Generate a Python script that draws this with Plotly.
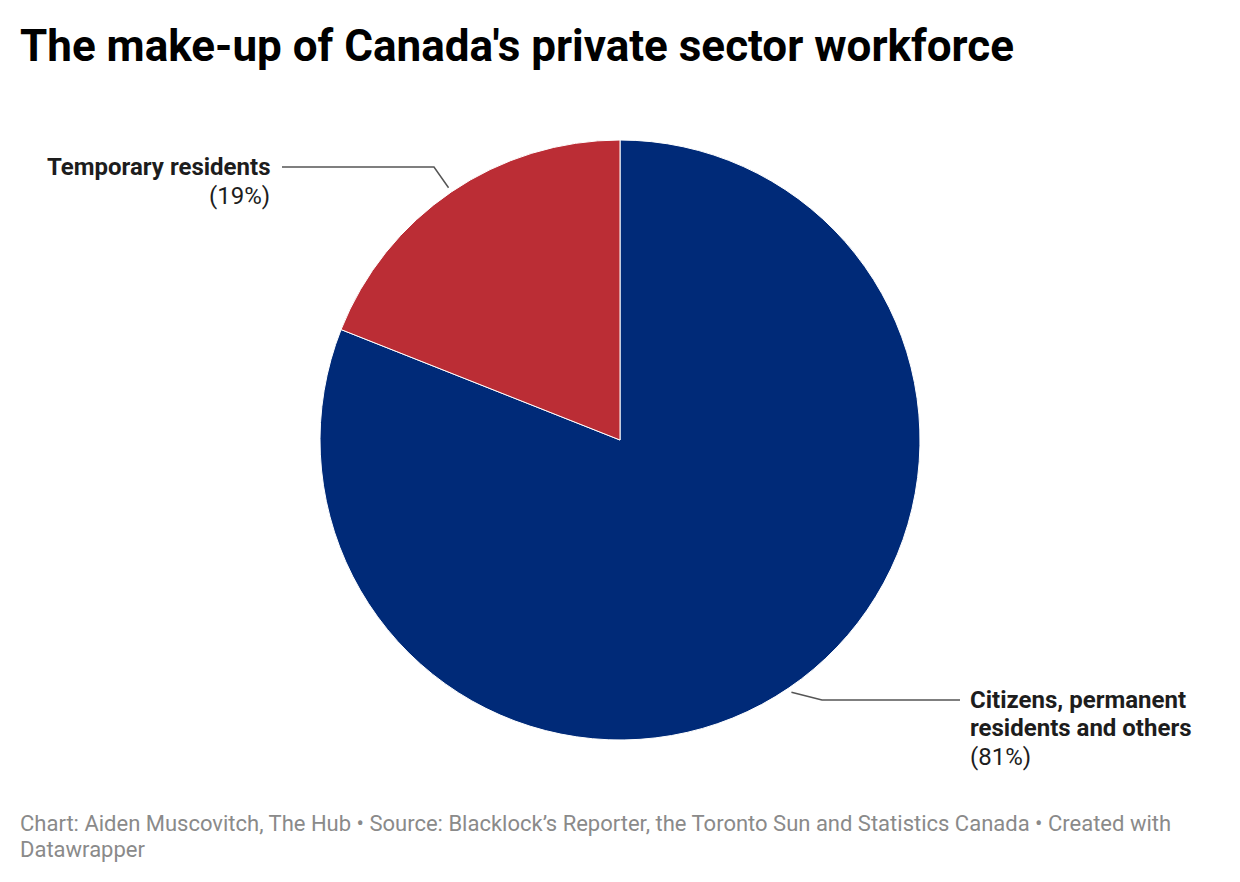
import math
import plotly.graph_objects as go

labels = ["Citizens, permanent residents and others", "Temporary residents"]
values = [81, 19]
pct_labels = ["(81%)", "(19%)"]
colors = ["#002a78", "#bb2d35"]

W, H = 1240, 882
cx, cy, R = 620, 440, 300

fig = go.Figure(go.Pie(
    labels=labels, values=values, sort=False, direction="clockwise", rotation=0,
    marker=dict(colors=colors, line=dict(color="white", width=1)),
    textinfo="none", hoverinfo="label+percent", showlegend=False,
    domain=dict(x=[(cx - R) / W, (cx + R) / W], y=[(H - cy - R) / H, (H - cy + R) / H]),
))

def px(x):
    return x / W

def py(y):
    return 1 - y / H

total = sum(values)
cum = 0
mids = []
for v in values:
    mids.append((cum + v / 2) / total * 360)
    cum += v

shapes = []
annotations = []
r_out = R + 5
line_col = "#555555"
lab_font_b = dict(family="Roboto", size=24, color="#1d1d1d")

def txt(x, y, s, xanchor, font):
    annotations.append(dict(xref="paper", yref="paper", x=px(x), y=py(y), xanchor=xanchor,
                            yanchor="middle", showarrow=False, text=s, font=font))

# Citizens (first slice)
a = math.radians(mids[0])
x0, y0 = cx + r_out * math.sin(a), cy - r_out * math.cos(a)
shapes.append(dict(type="path", xref="paper", yref="paper",
                   path=f"M {px(x0)} {py(y0)} L {px(822)} {py(700)} L {px(960)} {py(700)}",
                   line=dict(color=line_col, width=1.5)))
txt(968, 700, "<b>Citizens, permanent</b>", "left", lab_font_b)
txt(968, 728, "<b>residents and others</b>", "left", lab_font_b)
txt(968, 757, pct_labels[0], "left", lab_font_b)

# Temporary (second slice)
a = math.radians(mids[1])
x0, y0 = cx + r_out * math.sin(a), cy - r_out * math.cos(a)
shapes.append(dict(type="path", xref="paper", yref="paper",
                   path=f"M {px(x0)} {py(y0)} L {px(434)} {py(167)} L {px(282)} {py(167)}",
                   line=dict(color=line_col, width=1.5)))
txt(272, 167, "<b>" + labels[1] + "</b>", "right", lab_font_b)
txt(272, 196, pct_labels[1], "right", lab_font_b)

# title
txt(18, 46, "<b>The make-up of Canada's private sector workforce</b>", "left",
    dict(family="Roboto", size=44, color="#000000"))
# footer
foot = dict(family="Roboto", size=22, color="#8a8a8a")
txt(18, 823, "Chart: Aiden Muscovitch, The Hub • Source: Blacklock’s Reporter, the Toronto Sun and Statistics Canada • Created with", "left", foot)
txt(18, 849, "Datawrapper", "left", foot)

fig.update_layout(
    width=W, height=H, margin=dict(l=0, r=0, t=0, b=0),
    paper_bgcolor="white", plot_bgcolor="white",
    shapes=shapes, annotations=annotations,
)
fig.write_html("out.html", config={"displayModeBar": False},
               post_script="document.body.style.margin='0';")
